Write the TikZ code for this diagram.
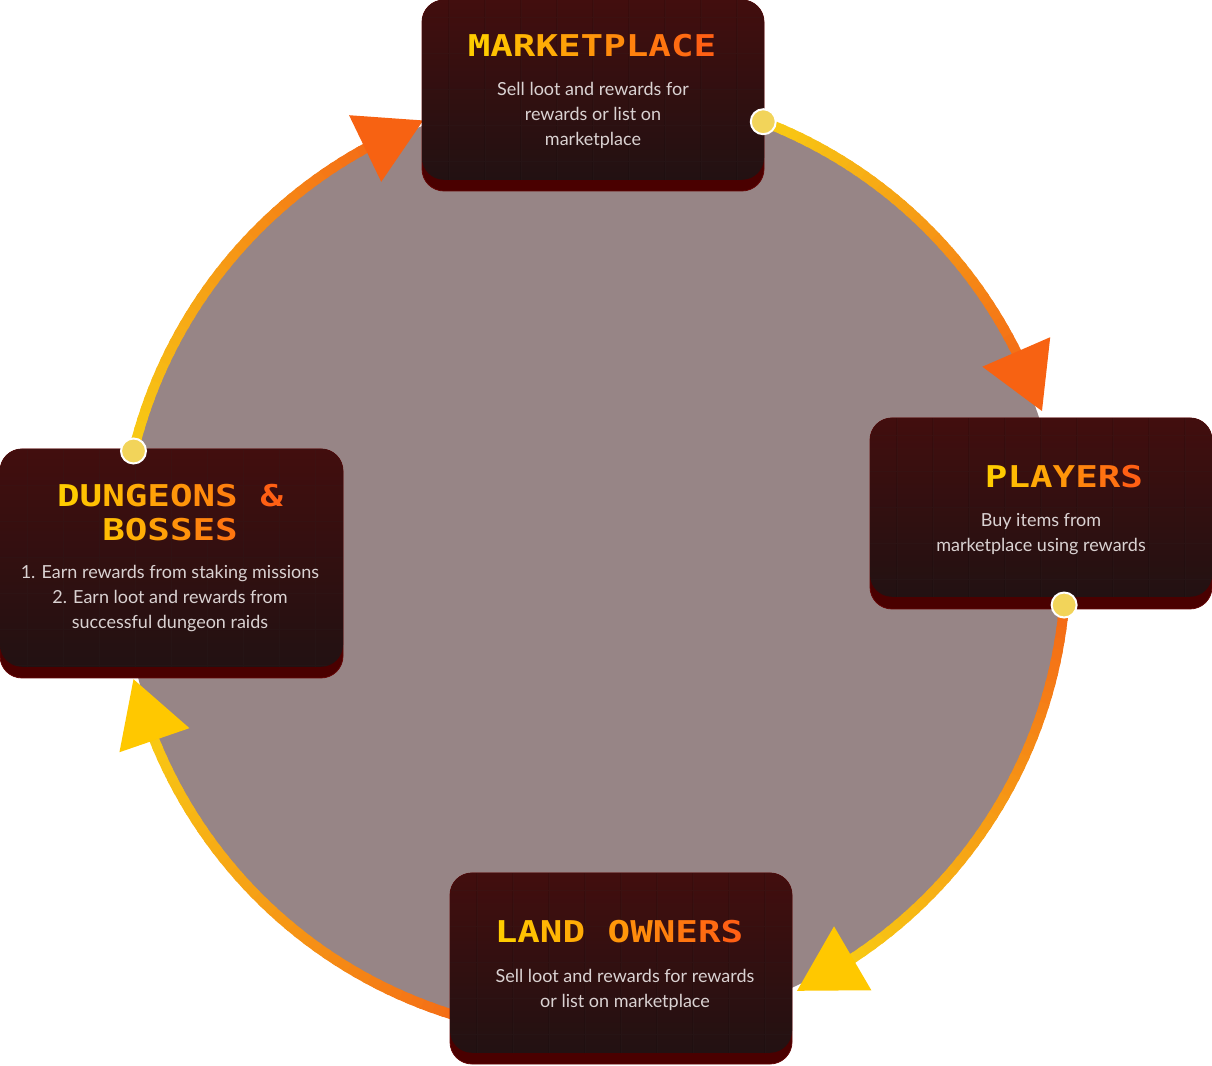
\documentclass[tikz,border=0pt]{standalone}
\usepackage{fontspec}
\usepackage{graphicx}
\setmainfont{Lato}
\newfontfamily\pixfont{DejaVu Sans Mono}
\usetikzlibrary{calc}
\definecolor{disk}{RGB}{151,133,134}
\definecolor{faceTop}{RGB}{66,14,14}
\definecolor{faceBot}{RGB}{34,17,18}
\definecolor{bandc}{RGB}{74,0,0}
\definecolor{edgec}{RGB}{100,6,6}
\definecolor{bodytxt}{RGB}{218,210,210}
\definecolor{tY}{RGB}{255,204,0}
\definecolor{tO}{RGB}{255,96,20}
\definecolor{aY}{RGB}{248,205,20}
\definecolor{aO}{RGB}{244,104,22}
\definecolor{headY}{RGB}{255,200,0}
\definecolor{headO}{RGB}{247,98,18}
\definecolor{dotc}{RGB}{242,212,90}
\newcommand\gch[2]{\textcolor{tO!#1!tY}{#2}}
\newcommand\ttl[1]{\scalebox{1.25}[1]{#1}}
\tikzset{
  bandbox/.style={rounded corners=22pt, fill=bandc, draw=edgec, line width=0.8pt, inner sep=0pt},
  facebox/.style={rounded corners=22pt, top color=faceTop, bottom color=faceBot, inner sep=0pt,
    path picture={\draw[black, opacity=0.10, line width=1.2pt, step=36pt]
      (path picture bounding box.south west) grid (path picture bounding box.north east);
      \draw[white, opacity=0.025, line width=1pt, step=36pt, xshift=1.5pt, yshift=-1.5pt]
      (path picture bounding box.south west) grid (path picture bounding box.north east);}},
  titletxt/.style={inner sep=0pt, align=center, font=\pixfont\bfseries\fontsize{30}{34}\selectfont},
  bodytext/.style={inner sep=0pt, align=center, text=bodytxt, font=\fontsize{18}{25}\selectfont},
  dotnode/.style={circle, fill=dotc, draw=white, line width=2pt, minimum size=25pt, inner sep=0pt},
}
\newcommand\gradarc[4]{%
  \foreach \k in {1,...,40}{
    \pgfmathsetmacro\sa{#1+(#2-#1)*(\k-1)/40}
    \pgfmathsetmacro\ea{#1+(#2-#1)*(\k+0.4)/40}
    \pgfmathsetmacro\pc{100*(\k-0.5)/40}
    \draw[line width=10pt, color=#4!\pc!#3] ($(C)+(\sa:473)$) arc[start angle=\sa, end angle=\ea, radius=473];
  }}
\newcommand\headtri[3]{% tip angle, base angle, colour
  \coordinate (T) at ($(C)+(#1:474)$);
  \coordinate (B) at ($(C)+(#2:473)$);
  \fill[#3] (T) -- ($(B)!37pt!90:(T)$) -- ($(B)!37pt!-90:(T)$) -- cycle;}
\begin{document}
\begin{tikzpicture}[x=1pt,y=1pt]
\useasboundingbox (0,0) rectangle (1212,1065);
\coordinate (C) at (593,502);
% disk
\fill[disk] (C) circle[radius=469];
% arrows
\gradarc{68.9}{23}{aY}{aO}
\headtri{18.7}{26.5}{headO}
\gradarc{-5.1}{-59}{aO}{aY}
\headtri{-64.5}{-56.7}{headY}
\gradarc{256}{199}{aO}{aY}
\headtri{194.2}{202}{headY}
\gradarc{166.3}{116}{aY}{aO}
\headtri{111}{118.8}{headO}
% Marketplace
\node[bandbox, minimum width=342pt, minimum height=191pt] (mkb) at (593,969.5) {};
\node[facebox, minimum width=342pt, minimum height=180pt, anchor=north] (mk) at (mkb.north) {};
\node[titletxt] (mkt) at (592,1019) {\ttl{\gch{0}{M}\gch{10}{A}\gch{20}{R}\gch{30}{K}\gch{40}{E}\gch{50}{T}\gch{60}{P}\gch{70}{L}\gch{80}{A}\gch{90}{C}\gch{100}{E}}};
\node[bodytext] (mkx) at (593,950) {Sell loot and rewards for\\rewards or list on\\marketplace};
% Players
\node[bandbox, minimum width=342pt, minimum height=191pt] (plb) at (1041,551.5) {};
\node[facebox, minimum width=342pt, minimum height=179pt, anchor=north] (pl) at (plb.north) {};
\node[titletxt] (plt) at (1064,588) {\ttl{\gch{0}{P}\gch{17}{L}\gch{33}{A}\gch{50}{Y}\gch{67}{E}\gch{83}{R}\gch{100}{S}}};
\node[bodytext] (plx) at (1041,530.5) {Buy items from\\marketplace using rewards};
% Dungeons
\node[bandbox, minimum width=343pt, minimum height=229pt] (dgb) at (171.5,501.5) {};
\node[facebox, minimum width=343pt, minimum height=218pt, anchor=north] (dg) at (dgb.north) {};
\node[titletxt] (dgt) at (170,552) {\ttl{\gch{0}{D}\gch{10}{U}\gch{20}{N}\gch{30}{G}\gch{40}{E}\gch{50}{O}\gch{60}{N}\gch{70}{S} \gch{100}{\&}}\\\ttl{\gch{15}{B}\gch{28}{O}\gch{41}{S}\gch{54}{S}\gch{67}{E}\gch{80}{S}}};
\node[bodytext] (dgx) at (170,466) {1. Earn rewards from staking missions\\2. Earn loot and rewards from\\successful dungeon raids};
% Land owners
\node[bandbox, minimum width=342pt, minimum height=191pt] (lob) at (621,96.5) {};
\node[facebox, minimum width=342pt, minimum height=180pt, anchor=north] (lo) at (lob.north) {};
\node[titletxt] (lot) at (619,133) {\ttl{\gch{0}{L}\gch{10}{A}\gch{20}{N}\gch{30}{D} \gch{50}{O}\gch{60}{W}\gch{70}{N}\gch{80}{E}\gch{90}{R}\gch{100}{S}}};
\node[bodytext] (lox) at (625,75.5) {Sell loot and rewards for rewards\\or list on marketplace};
% dots
\node[dotnode] (p1) at ($(C)+(68.9:473)$) {};
\node[dotnode] (p2) at ($(C)+(-5.1:473)$) {};
\node[dotnode] (p4) at ($(C)+(166.3:473)$) {};
\end{tikzpicture}
\end{document}
